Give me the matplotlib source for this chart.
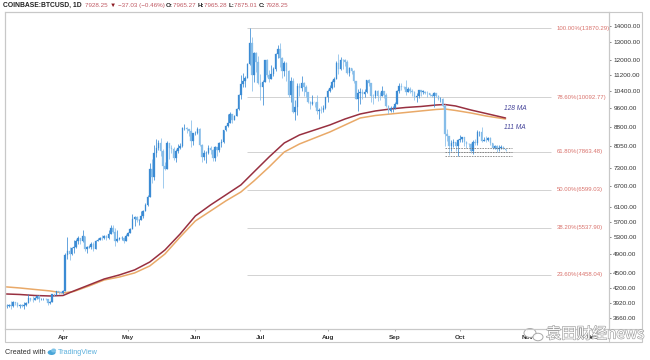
import matplotlib
matplotlib.use("Agg")
import matplotlib.pyplot as plt
import matplotlib.dates as mdates
import matplotlib.patheffects as pe
from matplotlib.patches import Rectangle, Ellipse
from matplotlib.lines import Line2D
from matplotlib.ticker import FixedLocator, NullLocator, FormatStrFormatter
import numpy as np

plt.rcParams['font.family'] = ['Liberation Sans', 'DejaVu Sans']

# ---------------- data ----------------
start_date = "2019-03-06"
opens = [
    3860,3870,3880,3860,3940,3920,3870,3880,3865,3880,3925,4010,3980,3975,4010,4040,3990,3995,4000,3990,3920,3940,4080,4070,4135,4125,
    4105,4150,4880,4980,4900,5040,5060,5200,5290,5200,5330,5020,5070,5070,5150,5030,5220,5240,5290,5280,5330,5280,5380,5530,5430,5200,5270,5280,5280,5220,
    5340,5410,5510,5760,5830,5740,5740,5840,5980,6160,6370,7250,6990,7810,7980,8190,7880,7360,7260,8190,7990,7950,7630,7880,7990,8060,8750,8770,8720,8660,8270,
    8550,8550,8740,8120,7680,7800,7800,8000,7930,7630,8010,7920,8170,8230,8690,8840,8980,9330,9080,9270,9540,10210,10700,10860,11020,11740,12930,11160,12370,11870,
    10770,10590,10830,11980,11160,10980,11240,11470,12290,12570,12100,11360,11810,11380,10200,10860,9420,9670,10640,10530,10760,10590,10320,9860,9770,9880,9850,9480,9530,9510,9590,
    10090,10400,10520,10820,10980,11800,11470,11990,11970,11850,11290,11560,11390,10860,10020,10300,10360,10220,10320,10920,10760,10140,10130,10400,10160,10140,10370,10190,9710,9490,9590,
    9600,9770,10390,10630,10590,10580,10330,10500,10400,10340,10120,10160,10420,10360,10360,10310,10270,10190,10170,10280,10170,9990,10030,9690,8530,8430,8060,8190,8200,8050,
    8300,8330,8390,8230,8150,8140,7870,8210,8180,8590,8590,8270,8300,8290,8350,8160,8000,8080,7960,7990,8040,7965.27,
]
highs = [
    3905,3910,3950,3960,3945,3935,3905,3895,3930,3940,4080,4015,4040,4030,4060,4060,4010,4010,4010,3995,3950,4090,4090,4140,4150,4130,
    4165,4930,5300,5060,5060,5230,5250,5340,5290,5470,5340,5100,5120,5180,5190,5240,5290,5320,5350,5350,5350,5480,5620,5620,5530,5480,5320,5330,5300,5390,
    5440,5540,5900,5850,5840,5770,5980,6000,6200,6430,7450,7580,8100,8340,8280,8380,7940,7500,8270,8190,8100,8040,7950,8150,8160,8800,8930,8820,8740,9090,8580,
    8630,8820,8760,8130,7900,7880,8110,8050,7950,8050,8010,8220,8320,8700,8870,9330,9440,9350,9300,9600,10220,11200,11300,11100,11790,13870,13330,12440,12400,12200,
    11220,10940,12000,12050,11440,11680,11600,12340,12800,12950,12120,11900,11840,11450,11080,11030,9950,10750,10750,11100,10840,10660,10320,9920,10180,9880,10190,9610,9710,9750,10120,
    10480,10670,10930,11080,11900,12320,12150,12050,12040,11950,11600,11560,11450,10880,10460,10530,10470,10480,10940,10950,10790,10230,10430,10420,10350,10650,10400,10290,9720,9680,9680,
    9890,10440,10790,10770,10650,10930,10560,10600,10460,10390,10300,10450,10450,10420,10380,10370,10280,10260,10350,10280,10180,10090,10040,9800,8720,8460,8280,8340,8220,8340,
    8500,8400,8400,8240,8170,8160,8300,8340,8670,8650,8820,8420,8450,8390,8420,8170,8120,8110,8090,8100,8080,7965.28,
]
lows = [
    3830,3855,3810,3855,3890,3850,3830,3840,3810,3870,3920,3960,3945,3965,3990,3940,3975,3980,3970,3880,3910,3930,4040,4060,4080,4100,
    4080,4145,4800,4780,4890,4930,5050,5150,5150,5180,4980,4930,5040,5030,4980,5020,5200,5230,5230,5270,5230,5260,5370,5410,5090,5180,5240,5230,5160,5200,
    5330,5400,5500,5590,5680,5600,5730,5780,5980,6120,6370,6800,6900,7660,7900,7690,6650,7210,7250,7600,7800,7550,7500,7800,7960,8040,8670,8580,8430,8040,8100,
    8470,8530,8080,7480,7570,7460,7760,7790,7520,7540,7700,7850,8040,8190,8630,8820,8970,8970,9070,9260,9530,10000,10560,10560,11010,11710,10400,10830,11330,10700,
    9970,9720,10830,11070,10800,10980,11100,11380,12100,11600,11000,11100,10870,10110,9860,9370,9070,9300,10130,10380,10160,10080,9810,9540,9750,9650,9350,9120,9390,9420,9580,
    9880,10350,10500,10600,10980,11210,11430,11470,11660,11250,11100,11230,10780,10000,9480,9770,9990,10110,10300,10620,9850,9780,10060,9910,9960,10140,10060,9630,9340,9410,9440,
    9560,9760,10290,10420,10470,10200,10320,10300,10130,9960,9850,10070,10150,10250,10260,10100,10150,10110,9640,10080,9980,9880,9630,8060,8250,7750,7880,8010,7880,7720,
    8210,8200,8050,7990,8010,7800,7780,8120,8120,8460,8220,8260,8200,8250,8100,7940,7950,7860,7870,7940,7940,7875.01,
]
closes = [
    3870,3880,3860,3940,3920,3870,3880,3865,3880,3925,4010,3980,3975,4010,4040,3990,3995,4000,3990,3920,3940,4080,4070,4135,4125,4105,
    4150,4880,4980,4900,5040,5060,5200,5290,5200,5330,5020,5070,5070,5150,5030,5220,5240,5290,5280,5330,5280,5380,5530,5430,5200,5270,5280,5280,5220,5340,
    5410,5510,5760,5830,5740,5740,5840,5980,6160,6370,7250,6990,7810,7980,8190,7880,7360,7260,8190,7990,7950,7630,7880,7990,8060,8750,8770,8720,8660,8270,8550,
    8550,8740,8120,7680,7800,7800,8000,7930,7630,8010,7920,8170,8230,8690,8840,8980,9330,9080,9270,9540,10210,10700,10860,11020,11740,12930,11160,12370,11870,10770,
    10590,10830,11980,11160,10980,11240,11470,12290,12570,12100,11360,11810,11380,10200,10860,9420,9670,10640,10530,10760,10590,10320,9860,9770,9880,9850,9480,9530,9510,9590,10090,
    10400,10520,10820,10980,11800,11470,11990,11970,11850,11290,11560,11390,10860,10020,10300,10360,10220,10320,10920,10760,10140,10130,10400,10160,10140,10370,10190,9710,9490,9590,9600,
    9770,10390,10630,10590,10580,10330,10500,10400,10340,10120,10160,10420,10360,10360,10310,10270,10190,10170,10280,10170,9990,10030,9690,8530,8430,8060,8190,8200,8050,8300,
    8330,8390,8230,8150,8140,7870,8210,8180,8590,8590,8270,8300,8290,8350,8160,8000,8080,7960,7990,8040,7965.28,7928.25,
]

ma_dates = ["2019-03-06","2019-03-12","2019-03-19","2019-03-26","2019-04-01","2019-04-06",
            "2019-04-13","2019-04-20","2019-04-27","2019-05-04","2019-05-11","2019-05-18",
            "2019-05-25","2019-06-01","2019-06-08","2019-06-15","2019-06-22","2019-06-28",
            "2019-07-05","2019-07-12","2019-07-19","2019-07-26","2019-08-02","2019-08-09",
            "2019-08-16","2019-08-23","2019-08-30","2019-09-06","2019-09-13","2019-09-20",
            "2019-09-24","2019-09-29","2019-10-06","2019-10-13","2019-10-22"]
ma128 = [4085,4076,4057,4048,4057,4143,4258,4377,4459,4563,4732,5001,
         5383,5847,6150,6439,6743,7157,7668,8178,8484,8681,8883,9131,
         9343,9474,9561,9627,9671,9737,9759,9693,9517,9365,9173]
ma111 = [4220,4200,4171,4143,4105,4133,4238,4357,4417,4500,4647,4910,
         5309,5714,5982,6264,6528,6867,7323,7846,8140,8368,8601,8883,
         9173,9279,9343,9408,9474,9539,9561,9495,9387,9258,9131]

fib_labels = ["100.00%(13870.29)", "78.60%(10092.77)", "61.80%(7863.48)",
              "50.00%(6599.03)", "38.20%(5537.90)", "23.60%(4458.04)"]
fib_levels = [13870.29, 10092.77, 7863.48, 6599.03, 5537.90, 4458.04]

box_levels = [7991, 7829, 7705]

y_ticks = [14000, 13000, 12000, 11200, 10400, 9600, 8800, 8050, 7300, 6700,
           6100, 5700, 5300, 4900, 4500, 4200, 3920, 3660]
month_labels = ["Apr", "May", "Jun", "Jul", "Aug", "Sep", "Oct", "Nov", "Dec"]
month_dates = ["2019-04-01", "2019-05-01", "2019-06-01", "2019-07-01", "2019-08-01",
               "2019-09-01", "2019-10-01", "2019-11-01", "2019-12-01"]

# ---------------- figure ----------------
W, H = 650, 360
fig = plt.figure(figsize=(6.5, 3.6), dpi=100)
fig.patch.set_facecolor('white')

def fx(px):
    return px / W

def fy(py):
    return 1 - py / H

ax = fig.add_axes([fx(5), fy(329), (609 - 5) / W, (329 - 12) / H])
ax.set_facecolor('white')

d0 = mdates.datestr2num(start_date)
xs = d0 + np.arange(len(closes))
o = np.array(opens, float); h = np.array(highs, float)
l = np.array(lows, float); c = np.array(closes, float)
up = c >= o
col_up = '#3b8bd4'
col_dn = '#86bde9'
colors = np.where(up, col_up, col_dn)

ax.vlines(xs, l, h, colors=colors, lw=0.55, zorder=3)
body_lo = np.minimum(o, c)
body_h = np.maximum(np.abs(c - o), c * 0.0015)
ax.bar(xs, body_h, bottom=body_lo, width=0.72, color=colors, edgecolor=colors,
       linewidth=0.2, zorder=4)

ax.set_yscale('log')

# moving averages
mx = mdates.datestr2num(ma_dates)
ax.plot(mx, ma111, color='#e9a968', lw=1.1, zorder=2, solid_capstyle='round',
        solid_joinstyle='round')
ax.plot(mx, ma128, color='#983040', lw=1.1, zorder=2, solid_capstyle='round',
        solid_joinstyle='round')

# fib levels
fib_start = mdates.datestr2num("2019-06-25")
fib_end = mdates.datestr2num("2019-11-12")
ax.hlines(fib_levels, fib_start, fib_end, colors='#d2d2d2', lw=0.7, zorder=1)
lab_x = mdates.datestr2num("2019-11-14") + 0.5
for lev, lab in zip(fib_levels, fib_labels):
    ax.text(lab_x, lev, lab, color='#d9726c', fontsize=4.3, va='center', ha='left',
            zorder=5)

# dashed support box
bx0 = mdates.datestr2num("2019-09-24")
bx1 = mdates.datestr2num("2019-10-25")
ax.hlines(box_levels, bx0, bx1, colors='#666666', lw=0.5, linestyles=(0, (2.2, 1.6)),
          zorder=5)

# MA labels
ma_lab_x = mdates.datestr2num("2019-10-21") + 0.5
ax.text(ma_lab_x, 9561, "128 MA", color='#45449a', fontsize=4.8, style='italic',
        va='center', ha='left')
ax.text(ma_lab_x, 8761, "111 MA", color='#45449a', fontsize=4.8, style='italic',
        va='center', ha='left')

# limits
ax.set_xlim(mdates.datestr2num("2019-04-01") - 26.74, mdates.datestr2num("2019-04-01") + 251.7)
ax.set_ylim(3478, 14930)

# y axis on the right
ax.yaxis.tick_right()
ax.yaxis.set_major_locator(FixedLocator(y_ticks))
ax.yaxis.set_minor_locator(NullLocator())
ax.yaxis.set_major_formatter(FormatStrFormatter('%.2f'))
ax.tick_params(axis='y', which='major', length=1.6, width=0.5, colors='#555555',
               labelsize=4.6, pad=1.5, labelcolor='#333333')

# x axis
ax.set_xticks(mdates.datestr2num(month_dates))
ax.set_xticklabels(month_labels)
ax.tick_params(axis='x', length=1.2, width=0.5, colors='#888888', labelsize=4.6,
               pad=3.3, labelcolor='#333333')
for t in ax.get_xticklabels():
    t.set_fontweight('bold')

for s in ax.spines.values():
    s.set_color('#c8c8c8')
    s.set_linewidth(0.8)

# outer frame lines (figure coords)
fig.add_artist(Rectangle((fx(5), fy(342)), (642 - 5) / W, (342 - 12) / H,
                         transform=fig.transFigure, fill=False, edgecolor='#c8c8c8',
                         lw=0.8))
fig.add_artist(Line2D([fx(609), fx(609)], [fy(12), fy(342)], transform=fig.transFigure,
                      color='#c8c8c8', lw=0.8))
fig.add_artist(Line2D([fx(5), fx(642)], [fy(329), fy(329)], transform=fig.transFigure,
                      color='#c8c8c8', lw=0.8))

# header
fig.canvas.draw()
renderer = fig.canvas.get_renderer()
red = '#c05a64'
dark = '#222222'
pieces = [("COINBASE:BTCUSD, 1D  ", dark, 'bold', 4.9), ("7928.25 ", red, 'normal', 4.5),
          ("\u25BC ", '#8b1a22', 'normal', 4.5), ("\u221237.03 (\u22120.46%) ", red, 'normal', 4.5),
          ("O:", dark, 'bold', 4.5), ("7965.27 ", red, 'normal', 4.5),
          ("H:", dark, 'bold', 4.5), ("7965.28 ", red, 'normal', 4.5),
          ("L:", dark, 'bold', 4.5), ("7875.01 ", red, 'normal', 4.5),
          ("C:", dark, 'bold', 4.5), ("7928.25", red, 'normal', 4.5)]
xpos = 3.0
for txt, colr, wt, fs in pieces:
    t = fig.text(fx(xpos), fy(5.5), txt, color=colr, fontsize=fs, fontweight=wt,
                 va='center', ha='left')
    bb = t.get_window_extent(renderer=renderer)
    xpos += bb.width

# created with TradingView
t1 = fig.text(fx(5), fy(352), "Created with", color='#333333', fontsize=5.2,
              va='center', ha='left')
bb = t1.get_window_extent(renderer=renderer)
lx = 5 + bb.width + 2
fig.add_artist(Ellipse((fx(lx + 4), fy(352.5)), 8 / W, 5 / H, transform=fig.transFigure,
                       facecolor='#4aa6d8', edgecolor='none'))
fig.add_artist(Ellipse((fx(lx + 6), fy(350.5)), 5 / W, 4 / H, transform=fig.transFigure,
                       facecolor='#7cc3e8', edgecolor='none'))
fig.text(fx(lx + 10), fy(352), "TradingView", color='#5cb0dc', fontsize=5.2,
         va='center', ha='left')

# watermark
for (cx, cy, ww, hh) in [(530, 333, 12, 9), (538, 337, 10, 7.5)]:
    fig.add_artist(Ellipse((fx(cx), fy(cy)), ww / W, hh / H, transform=fig.transFigure,
                           facecolor='white', edgecolor='#a0a0a0', lw=0.7, alpha=0.9))
wm = fig.text(fx(546), fy(334), "袁田财经news", fontsize=11,
              family=['Noto Sans CJK SC', 'DejaVu Sans'], color='white',
              va='center', ha='left')
wm.set_path_effects([pe.withStroke(linewidth=0.9, foreground='#a0a0a0')])

fig.savefig("out.png", dpi=100, facecolor='white')
